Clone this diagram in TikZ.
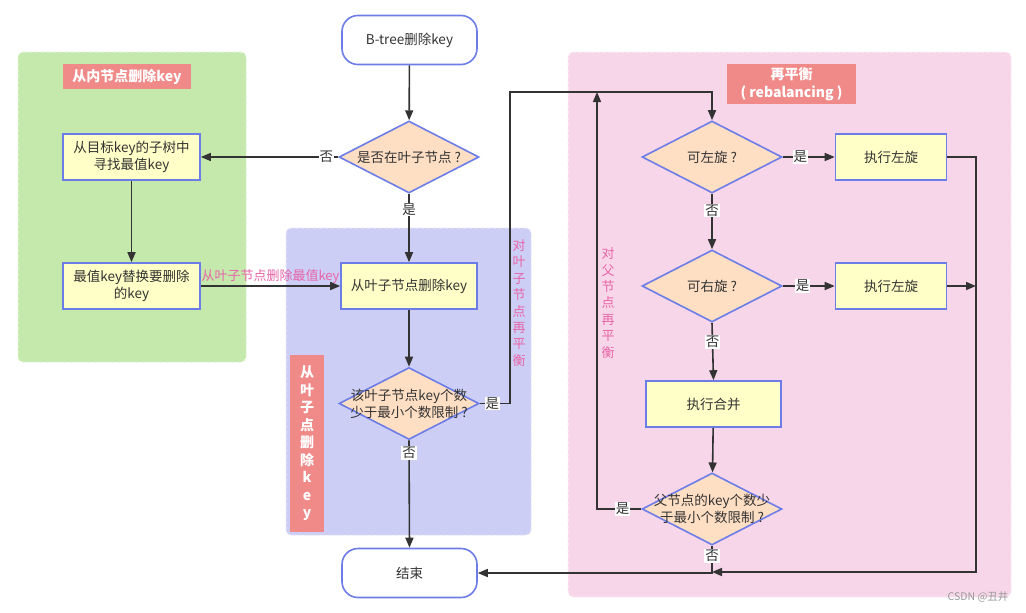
\documentclass[tikz,border=0pt]{standalone}
\usepackage{fontspec}
\setmainfont{Noto Sans CJK SC}
\usetikzlibrary{shapes.geometric,arrows.meta}
\definecolor{greenbg}{HTML}{C5E8AC}
\definecolor{bluebg}{HTML}{CCCEF6}
\definecolor{pinkbg}{HTML}{F8D6E9}
\definecolor{titlebg}{HTML}{F08A88}
\definecolor{boxfill}{HTML}{FFFFC7}
\definecolor{diafill}{HTML}{FFDFC4}
\definecolor{border}{HTML}{6C7DE8}
\definecolor{linec}{HTML}{333333}
\definecolor{txt}{HTML}{333333}
\definecolor{pinktxt}{HTML}{E865A8}
\newcommand{\qm}{\hspace{3pt}?}
\tikzset{
  region/.style={rounded corners=5pt, dashed, line width=1pt},
  titlebox/.style={fill=titlebg, text=white, font=\fontsize{14}{17}\selectfont\bfseries, inner sep=0pt, align=center},
  procbox/.style={draw=border, fill=boxfill, line width=1.6pt, text=txt, align=center, minimum width=137pt, minimum height=46pt, inner sep=0pt},
  termbox/.style={draw=border, fill=white, line width=1.6pt, rounded corners=16pt, text=txt, minimum width=135pt, minimum height=49pt, inner sep=0pt},
  dia/.style={diamond, draw=border, fill=diafill, line width=1.6pt, minimum width=140pt, minimum height=72pt, inner sep=0pt},
  diatext/.style={text=txt, align=center, inner sep=0pt},
  arr/.style={draw=linec, line width=1.6pt, -{Triangle[length=10pt,width=8pt]}},
  lbl/.style={fill=white, text=txt, inner sep=1pt},
  vpink/.style={text=pinktxt, align=center, font=\fontsize{13}{16.4}\selectfont}
}
\begin{document}
\begin{tikzpicture}[x=1pt,y=-1pt, font=\fontsize{13.5}{17}\selectfont]
\useasboundingbox (0,0) rectangle (1026,613);
\fill[white] (0,0) rectangle (1026,613);
% regions
\filldraw[region, fill=greenbg, draw=greenbg!50!white] (18,52) rectangle (246,362);
\filldraw[region, fill=bluebg, draw=bluebg!50!white] (286,228) rectangle (531,535);
\filldraw[region, fill=pinkbg, draw=pinkbg!40!white] (568,52) rectangle (1011,597);
% titles
\node[titlebox, minimum width=128pt, minimum height=25pt] (t1) at (127,76.5) {从内节点删除key};
\node[titlebox, minimum width=129pt, minimum height=40pt, font=\fontsize{14}{18}\selectfont\bfseries] (t3) at (791.5,84) {再平衡\\( rebalancing )};
\node[titlebox, minimum width=34pt, minimum height=177pt, font=\fontsize{14}{17.5}\selectfont\bfseries] (t2) at (307,443.5) {从\\叶\\子\\点\\删\\除\\k\\e\\y};
% nodes
\node[termbox] (start) at (409.5,40) {B-tree删除key};
\node[dia, label={[diatext]center:是否在叶子节点\qm}] (d1) at (409,157) {};
\node[procbox] (b1) at (131.5,157) {从目标key的子树中\\寻找最值key};
\node[procbox] (b2) at (131.5,286) {最值key替换要删除\\的key};
\node[procbox, minimum width=136pt] (leaf) at (409,286) {从叶子节点删除key};
\node[dia, label={[diatext]center:该叶子节点key个数\\少于最小个数限制\qm}] (d2) at (409,403.5) {};
\node[termbox] (end) at (409.5,573) {结束};
\node[dia, label={[diatext]center:可左旋\qm}] (dl) at (712,157) {};
\node[procbox, minimum width=111pt] (rl) at (891,157) {执行左旋};
\node[dia, label={[diatext]center:可右旋\qm}] (dr) at (712,286) {};
\node[procbox, minimum width=111pt] (rr) at (891,286) {执行左旋};
\node[procbox, minimum width=135pt] (merge) at (713.5,404) {执行合并};
\node[dia, label={[diatext]center:父节点的key个数少\\于最小个数限制\qm}] (dp) at (712,509) {};
% vertical pink labels
\node[vpink] (v1) at (519,303) {对\\叶\\子\\节\\点\\再\\平\\衡};
\node[vpink] (v2) at (608,303) {对\\父\\节\\点\\再\\平\\衡};
% junction coordinates
\coordinate (j1) at (510,92);
\coordinate (j3) at (597,92);
\coordinate (j4) at (976,572);
\coordinate (j5) at (712,572);
\coordinate (j6) at (976,286);
% connectors
\draw[arr] (start) -- (d1);
\draw[arr] (d1.west) -- node[lbl, pos=0.086] {否} (b1.east);
\draw[arr] (d1.south) -- node[lbl, pos=0.23] {是} (leaf.north);
\draw[arr] (b1) -- (b2);
\draw[arr] (b2.east) -- node[above, text=pinktxt, font=\fontsize{13}{16}\selectfont, inner sep=2pt] {从叶子节点删除最值key} (leaf.west);
\draw[arr] (leaf) -- (d2);
\draw[arr] (d2.south) -- node[lbl, pos=0.12] {否} (end.north);
\draw[arr] (d2.east) -| node[lbl, pos=0.21] {是} (j1) -| (dl.north);
\draw[arr] (dl.east) -- node[lbl, pos=0.34] {是} (rl.west);
\draw[arr] (dl.south) -- node[lbl, pos=0.3] {否} (dr.north);
\draw[arr] (dr.east) -- node[lbl, pos=0.38] {是} (rr.west);
\draw[arr] (dr.south) -- node[lbl, pos=0.33] {否} (merge.north);
\draw[arr] (merge) -- (dp);
\draw[arr] (dp.west) -| node[lbl, pos=0.21] {是} (j3);
\draw[arr] (rl.east) -| (j4) -- (j5);
\draw[arr] (rr.east) -- (j6);
\draw[arr] (dp.south) |- node[lbl, pos=0.19] {否} (end.east);
% watermark
\node[text=black!40, font=\fontsize{10.5}{12}\selectfont, anchor=east] (wm) at (1012,597) {CSDN @丑井};
\end{tikzpicture}
\end{document}
